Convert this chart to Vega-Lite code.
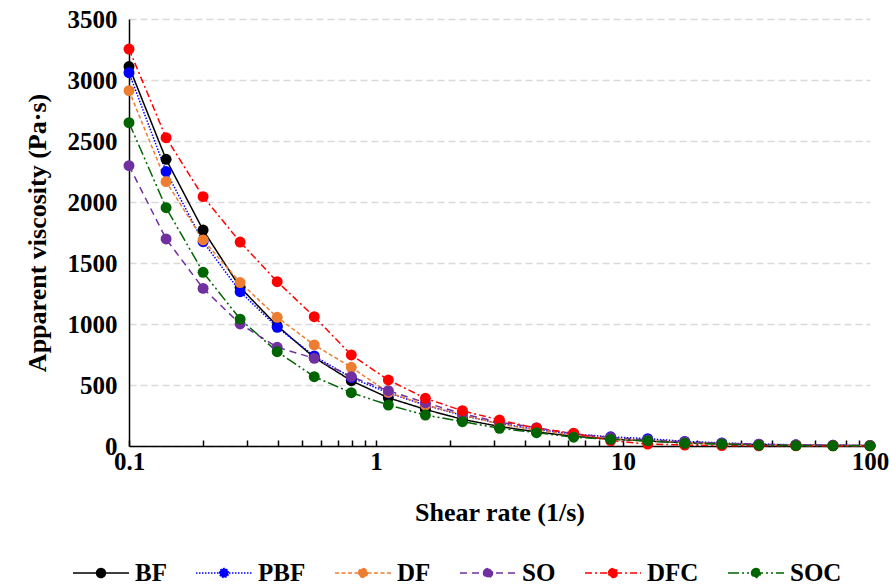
{
  "$schema": "https://vega.github.io/schema/vega-lite/v6.json",
  "width": 741,
  "height": 427,
  "autosize": {"type": "none"},
  "padding": {"left": 129, "top": 19, "right": 19, "bottom": 141},
  "background": "white",
  "config": {
    "view": {"stroke": null},
    "font": "Liberation Serif",
    "axis": {
      "labelFont": "Liberation Serif",
      "labelFontSize": 25,
      "labelFontWeight": "bold",
      "labelColor": "black",
      "titleFont": "Liberation Serif",
      "titleFontSize": 26,
      "titleFontWeight": "bold",
      "titleColor": "black",
      "domainColor": "black",
      "domainWidth": 1.5,
      "tickColor": "black",
      "tickWidth": 1.5
    },
    "legend": {
      "labelFont": "Liberation Serif",
      "labelFontSize": 25,
      "labelFontWeight": "bold",
      "labelColor": "black"
    }
  },
  "data": {
    "values": [
      {"rate": 0.1, "viscosity": 3110, "sample": "BF"},
      {"rate": 0.1413, "viscosity": 2350, "sample": "BF"},
      {"rate": 0.1995, "viscosity": 1770, "sample": "BF"},
      {"rate": 0.2818, "viscosity": 1300, "sample": "BF"},
      {"rate": 0.3981, "viscosity": 985, "sample": "BF"},
      {"rate": 0.5623, "viscosity": 725, "sample": "BF"},
      {"rate": 0.7943, "viscosity": 535, "sample": "BF"},
      {"rate": 1.122, "viscosity": 395, "sample": "BF"},
      {"rate": 1.585, "viscosity": 300, "sample": "BF"},
      {"rate": 2.239, "viscosity": 218, "sample": "BF"},
      {"rate": 3.162, "viscosity": 160, "sample": "BF"},
      {"rate": 4.467, "viscosity": 115, "sample": "BF"},
      {"rate": 6.31, "viscosity": 80, "sample": "BF"},
      {"rate": 8.913, "viscosity": 58, "sample": "BF"},
      {"rate": 12.59, "viscosity": 40, "sample": "BF"},
      {"rate": 17.78, "viscosity": 28, "sample": "BF"},
      {"rate": 25.12, "viscosity": 18, "sample": "BF"},
      {"rate": 35.48, "viscosity": 12, "sample": "BF"},
      {"rate": 50.12, "viscosity": 8, "sample": "BF"},
      {"rate": 70.79, "viscosity": 5, "sample": "BF"},
      {"rate": 100, "viscosity": 3, "sample": "BF"},

      {"rate": 0.1, "viscosity": 3060, "sample": "PBF"},
      {"rate": 0.1413, "viscosity": 2250, "sample": "PBF"},
      {"rate": 0.1995, "viscosity": 1675, "sample": "PBF"},
      {"rate": 0.2818, "viscosity": 1265, "sample": "PBF"},
      {"rate": 0.3981, "viscosity": 973, "sample": "PBF"},
      {"rate": 0.5623, "viscosity": 738, "sample": "PBF"},
      {"rate": 0.7943, "viscosity": 560, "sample": "PBF"},
      {"rate": 1.122, "viscosity": 435, "sample": "PBF"},
      {"rate": 1.585, "viscosity": 335, "sample": "PBF"},
      {"rate": 2.239, "viscosity": 250, "sample": "PBF"},
      {"rate": 3.162, "viscosity": 185, "sample": "PBF"},
      {"rate": 4.467, "viscosity": 135, "sample": "PBF"},
      {"rate": 6.31, "viscosity": 98, "sample": "PBF"},
      {"rate": 8.913, "viscosity": 75, "sample": "PBF"},
      {"rate": 12.59, "viscosity": 60, "sample": "PBF"},
      {"rate": 17.78, "viscosity": 38, "sample": "PBF"},
      {"rate": 25.12, "viscosity": 25, "sample": "PBF"},
      {"rate": 35.48, "viscosity": 15, "sample": "PBF"},
      {"rate": 50.12, "viscosity": 10, "sample": "PBF"},
      {"rate": 70.79, "viscosity": 6, "sample": "PBF"},
      {"rate": 100, "viscosity": 4, "sample": "PBF"},

      {"rate": 0.1, "viscosity": 2913, "sample": "DF"},
      {"rate": 0.1413, "viscosity": 2167, "sample": "DF"},
      {"rate": 0.1995, "viscosity": 1689, "sample": "DF"},
      {"rate": 0.2818, "viscosity": 1340, "sample": "DF"},
      {"rate": 0.3981, "viscosity": 1055, "sample": "DF"},
      {"rate": 0.5623, "viscosity": 828, "sample": "DF"},
      {"rate": 0.7943, "viscosity": 645, "sample": "DF"},
      {"rate": 1.122, "viscosity": 440, "sample": "DF"},
      {"rate": 1.585, "viscosity": 336, "sample": "DF"},
      {"rate": 2.239, "viscosity": 255, "sample": "DF"},
      {"rate": 3.162, "viscosity": 180, "sample": "DF"},
      {"rate": 4.467, "viscosity": 130, "sample": "DF"},
      {"rate": 6.31, "viscosity": 90, "sample": "DF"},
      {"rate": 8.913, "viscosity": 62, "sample": "DF"},
      {"rate": 12.59, "viscosity": 42, "sample": "DF"},
      {"rate": 17.78, "viscosity": 28, "sample": "DF"},
      {"rate": 25.12, "viscosity": 18, "sample": "DF"},
      {"rate": 35.48, "viscosity": 12, "sample": "DF"},
      {"rate": 50.12, "viscosity": 8, "sample": "DF"},
      {"rate": 70.79, "viscosity": 5, "sample": "DF"},
      {"rate": 100, "viscosity": 3, "sample": "DF"},

      {"rate": 0.1, "viscosity": 2298, "sample": "SO"},
      {"rate": 0.1413, "viscosity": 1697, "sample": "SO"},
      {"rate": 0.1995, "viscosity": 1292, "sample": "SO"},
      {"rate": 0.2818, "viscosity": 1000, "sample": "SO"},
      {"rate": 0.3981, "viscosity": 809, "sample": "SO"},
      {"rate": 0.5623, "viscosity": 719, "sample": "SO"},
      {"rate": 0.7943, "viscosity": 568, "sample": "SO"},
      {"rate": 1.122, "viscosity": 453, "sample": "SO"},
      {"rate": 1.585, "viscosity": 355, "sample": "SO"},
      {"rate": 2.239, "viscosity": 265, "sample": "SO"},
      {"rate": 3.162, "viscosity": 195, "sample": "SO"},
      {"rate": 4.467, "viscosity": 150, "sample": "SO"},
      {"rate": 6.31, "viscosity": 100, "sample": "SO"},
      {"rate": 8.913, "viscosity": 70, "sample": "SO"},
      {"rate": 12.59, "viscosity": 50, "sample": "SO"},
      {"rate": 17.78, "viscosity": 35, "sample": "SO"},
      {"rate": 25.12, "viscosity": 22, "sample": "SO"},
      {"rate": 35.48, "viscosity": 14, "sample": "SO"},
      {"rate": 50.12, "viscosity": 9, "sample": "SO"},
      {"rate": 70.79, "viscosity": 6, "sample": "SO"},
      {"rate": 100, "viscosity": 4, "sample": "SO"},

      {"rate": 0.1, "viscosity": 3254, "sample": "DFC"},
      {"rate": 0.1413, "viscosity": 2527, "sample": "DFC"},
      {"rate": 0.1995, "viscosity": 2044, "sample": "DFC"},
      {"rate": 0.2818, "viscosity": 1672, "sample": "DFC"},
      {"rate": 0.3981, "viscosity": 1347, "sample": "DFC"},
      {"rate": 0.5623, "viscosity": 1060, "sample": "DFC"},
      {"rate": 0.7943, "viscosity": 746, "sample": "DFC"},
      {"rate": 1.122, "viscosity": 541, "sample": "DFC"},
      {"rate": 1.585, "viscosity": 391, "sample": "DFC"},
      {"rate": 2.239, "viscosity": 289, "sample": "DFC"},
      {"rate": 3.162, "viscosity": 213, "sample": "DFC"},
      {"rate": 4.467, "viscosity": 145, "sample": "DFC"},
      {"rate": 6.31, "viscosity": 105, "sample": "DFC"},
      {"rate": 8.913, "viscosity": 45, "sample": "DFC"},
      {"rate": 12.59, "viscosity": 16, "sample": "DFC"},
      {"rate": 17.78, "viscosity": 8, "sample": "DFC"},
      {"rate": 25.12, "viscosity": 3, "sample": "DFC"},
      {"rate": 35.48, "viscosity": 2, "sample": "DFC"},
      {"rate": 50.12, "viscosity": 1, "sample": "DFC"},
      {"rate": 70.79, "viscosity": 1, "sample": "DFC"},
      {"rate": 100, "viscosity": 1, "sample": "DFC"},

      {"rate": 0.1, "viscosity": 2650, "sample": "SOC"},
      {"rate": 0.1413, "viscosity": 1953, "sample": "SOC"},
      {"rate": 0.1995, "viscosity": 1424, "sample": "SOC"},
      {"rate": 0.2818, "viscosity": 1040, "sample": "SOC"},
      {"rate": 0.3981, "viscosity": 773, "sample": "SOC"},
      {"rate": 0.5623, "viscosity": 568, "sample": "SOC"},
      {"rate": 0.7943, "viscosity": 437, "sample": "SOC"},
      {"rate": 1.122, "viscosity": 336, "sample": "SOC"},
      {"rate": 1.585, "viscosity": 254, "sample": "SOC"},
      {"rate": 2.239, "viscosity": 199, "sample": "SOC"},
      {"rate": 3.162, "viscosity": 145, "sample": "SOC"},
      {"rate": 4.467, "viscosity": 109, "sample": "SOC"},
      {"rate": 6.31, "viscosity": 72, "sample": "SOC"},
      {"rate": 8.913, "viscosity": 55, "sample": "SOC"},
      {"rate": 12.59, "viscosity": 43, "sample": "SOC"},
      {"rate": 17.78, "viscosity": 22, "sample": "SOC"},
      {"rate": 25.12, "viscosity": 16, "sample": "SOC"},
      {"rate": 35.48, "viscosity": 6, "sample": "SOC"},
      {"rate": 50.12, "viscosity": 3, "sample": "SOC"},
      {"rate": 70.79, "viscosity": 2, "sample": "SOC"},
      {"rate": 100, "viscosity": 1, "sample": "SOC"}
    ]
  },
  "encoding": {
    "x": {
      "field": "rate",
      "type": "quantitative",
      "scale": {"type": "log", "domain": [0.1, 100], "nice": false},
      "axis": {
        "title": "Shear rate (1/s)",
        "values": [0.1, 0.2, 0.3, 0.4, 0.5, 0.6, 0.7, 0.8, 0.9, 1, 2, 3, 4, 5, 6, 7, 8, 9, 10, 20, 30, 40, 50, 60, 70, 80, 90, 100],
        "labelExpr": "indexof([0.1, 1, 10, 100], datum.value) >= 0 ? format(datum.value, '~g') : ''",
        "grid": false,
        "tickSize": -6,
        "labelPadding": 9,
        "labelFlush": false,
        "labelOverlap": false,
        "titlePadding": 25
      }
    },
    "y": {
      "field": "viscosity",
      "type": "quantitative",
      "scale": {"domain": [0, 3500], "nice": false},
      "axis": {
        "title": "Apparent viscosity (Pa·s)",
        "values": [0, 500, 1000, 1500, 2000, 2500, 3000, 3500],
        "format": "d",
        "ticks": false,
        "labelPadding": 12,
        "grid": true,
        "gridColor": "#D9D9D9",
        "gridDash": [7, 4],
        "gridWidth": 1.3,
        "titlePadding": 17
      }
    },
    "color": {
      "field": "sample",
      "type": "nominal",
      "scale": {
        "domain": ["BF", "PBF", "DF", "SO", "DFC", "SOC"],
        "range": ["#000000", "#0000FF", "#ED7D31", "#7030A0", "#FF0000", "#006400"]
      },
      "legend": {
        "title": null,
        "orient": "none",
        "direction": "horizontal",
        "legendX": -57,
        "legendY": 525,
        "padding": 0,
        "symbolType": "M-1,0H1M-0.16,0A0.16,0.16 0 1,1 0.16,0A0.16,0.16 0 1,1 -0.16,0Z",
        "symbolSize": 3136,
        "symbolStrokeWidth": 1.5,
        "labelOffset": 5,
        "columnPadding": 26,
        "encode": {
          "symbols": {"update": {"fill": {"scale": "color", "field": "value"}}}
        }
      }
    }
  },
  "layer": [
    {
      "mark": {"type": "line", "strokeWidth": 1.5},
      "encoding": {
        "strokeDash": {
          "field": "sample",
          "type": "nominal",
          "scale": {
            "domain": ["BF", "PBF", "DF", "SO", "DFC", "SOC"],
            "range": [[1, 0], [1.5, 1.5], [4, 2.5], [7, 5], [7, 3, 2, 3], [11, 3, 2, 3, 2, 3]]
          }
        }
      }
    },
    {
      "mark": {"type": "point", "filled": true, "shape": "circle", "size": 120, "opacity": 1}
    }
  ]
}
